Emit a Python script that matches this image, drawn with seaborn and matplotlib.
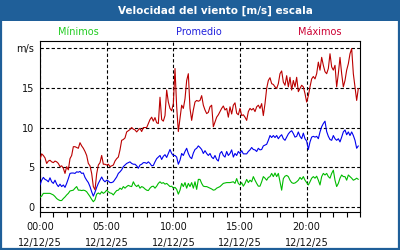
import numpy as np
import pandas as pd
import matplotlib
matplotlib.use("Agg")
import matplotlib.pyplot as plt
import seaborn as sns

title = "Velocidad del viento [m/s] escala"
series_names = ["Mínimos", "Promedio", "Máximos"]
x_tick_hours = [0, 5, 10, 15, 20]
x_tick_labels = ["00:00\n12/12/25", "05:00\n12/12/25", "10:00\n12/12/25",
                 "15:00\n12/12/25", "20:00\n12/12/25"]
y_tick_values = [0, 5, 10, 15, 20]
y_tick_labels = ["0", "5", "10", "15", "m/s"]

# samples every 7.5 minutes (hours)
step_hours = 0.125

maximos = [
    6.0, 6.7, 6.5, 6.2, 5.5, 5.8, 5.9, 5.7, 5.6, 5.8, 5.7, 5.5, 5.1, 5.2, 4.9, 4.25,
    5.1, 4.7, 6.1, 6.5, 7.6, 7.6, 7.5, 7.4, 8.1, 7.7, 7.4, 7.0, 6.5, 5.5, 5.2, 4.25,
    2.6, 2.2, 4.2, 5.3, 5.6, 6.5, 5.4, 5.4, 5.3, 5.4, 5.1, 5.2, 5.3, 5.8, 6.1, 6.3,
    7.2, 8.4, 8.5, 8.7, 9.45, 9.6, 9.75, 10.0, 9.8, 9.7, 9.45, 9.7, 9.9, 9.5, 10.0, 10.0,
    10.0, 10.5, 11.0, 11.3, 10.8, 11.25, 10.6, 10.5, 13.8, 11.0, 10.8, 11.5, 14.7, 13.2, 12.4, 12.1,
    13.0, 17.4, 12.6, 9.5, 11.1, 12.8, 12.4, 13.6, 15.9, 16.75, 12.4, 10.9, 12.2, 13.2, 13.4, 13.3,
    13.4, 14.0, 12.8, 12.2, 11.75, 11.9, 12.6, 12.8, 10.1, 10.7, 11.3, 11.6, 12.0, 12.4, 12.7, 12.2,
    12.4, 11.3, 12.6, 11.7, 12.8, 13.1, 11.8, 11.6, 12.4, 11.5, 11.6, 11.3, 10.9, 12.0, 12.4, 12.2,
    12.4, 12.0, 12.6, 12.8, 12.4, 13.0, 11.5, 13.0, 14.9, 15.9, 16.25, 15.5, 15.4, 15.1, 14.9, 15.5,
    16.75, 17.1, 15.7, 15.3, 16.5, 15.1, 16.3, 14.7, 15.9, 15.1, 16.3, 14.5, 14.9, 15.3, 15.1, 14.25,
    13.2, 14.0, 15.1, 16.1, 16.4, 16.1, 16.75, 18.2, 17.2, 18.8, 17.8, 17.0, 16.75, 17.4, 19.25, 17.6,
    17.2, 17.8, 15.1, 16.75, 18.8, 16.75, 15.1, 15.9, 17.2, 18.0, 19.25, 19.9, 16.75, 15.1, 13.4, 14.9,
]

promedio = [
    2.8, 3.4, 3.75, 3.5, 3.4, 3.2, 3.7, 3.2, 3.0, 3.4, 2.9, 2.6, 2.9, 2.6, 2.8, 2.5,
    3.0, 3.6, 4.25, 4.3, 4.3, 4.25, 4.45, 4.4, 4.5, 4.25, 4.3, 3.75, 3.4, 3.1, 2.6, 1.95,
    1.4, 1.9, 2.5, 3.0, 3.4, 3.8, 3.4, 3.2, 3.4, 3.3, 3.1, 3.1, 3.2, 3.5, 3.8, 4.25,
    4.45, 4.7, 5.1, 5.3, 5.5, 5.6, 5.7, 5.5, 5.4, 5.4, 5.2, 4.9, 5.3, 5.4, 5.6, 5.6,
    5.5, 5.7, 5.5, 5.2, 5.25, 5.7, 6.1, 6.3, 6.5, 6.0, 6.4, 6.6, 6.25, 6.75, 7.25, 6.75,
    6.5, 6.5, 6.3, 5.4, 5.9, 6.75, 6.5, 7.0, 7.4, 6.75, 6.3, 6.1, 6.8, 7.25, 7.4, 7.7,
    7.5, 7.25, 6.75, 7.1, 6.75, 6.5, 6.75, 6.3, 6.1, 6.5, 6.0, 5.8, 6.75, 7.0, 6.5, 6.3,
    7.0, 6.5, 6.75, 7.2, 6.3, 6.75, 6.5, 7.0, 6.75, 7.1, 6.7, 6.7, 6.7, 7.0, 7.2, 7.5,
    7.25, 7.2, 7.0, 7.4, 7.2, 7.25, 7.7, 7.8, 7.9, 8.4, 9.0, 8.75, 9.0, 8.75, 9.0, 8.6,
    8.9, 9.1, 8.6, 8.4, 8.8, 9.2, 9.45, 9.6, 9.25, 8.8, 8.9, 9.45, 8.9, 8.6, 9.3, 8.6,
    8.3, 7.25, 8.2, 8.8, 8.9, 8.8, 8.9, 8.6, 9.45, 10.1, 10.5, 10.8, 9.5, 8.9, 8.5, 8.4,
    9.0, 8.6, 8.4, 8.6, 8.2, 8.8, 9.45, 9.7, 9.1, 9.45, 9.0, 9.45, 9.0, 8.4, 7.4, 7.7,
]

minimos = [
    1.25, 1.4, 1.75, 1.75, 1.75, 1.75, 1.75, 1.65, 1.55, 1.35, 1.1, 0.95, 0.85, 0.85, 1.1, 1.3,
    1.55, 1.75, 2.05, 2.1, 2.15, 2.4, 2.6, 2.15, 2.15, 2.1, 2.15, 2.1, 1.95, 1.65, 1.35, 1.0,
    0.7, 0.95, 1.65, 1.8, 1.65, 1.95, 1.75, 1.9, 2.15, 1.95, 1.8, 1.75, 1.55, 1.85, 2.1, 2.15,
    2.4, 2.25, 2.6, 2.4, 2.6, 2.75, 2.65, 2.6, 3.2, 2.8, 2.6, 2.8, 2.4, 2.6, 2.5, 2.3,
    2.15, 2.1, 2.4, 2.6, 2.65, 2.4, 2.65, 3.0, 3.2, 3.0, 3.1, 2.9, 3.0, 2.8, 2.6, 2.65,
    2.4, 2.5, 2.25, 1.65, 2.15, 3.0, 2.6, 3.1, 2.4, 3.0, 2.6, 3.1, 2.4, 3.2, 2.25, 3.5,
    3.5, 3.0, 2.65, 2.6, 2.6, 2.5, 2.4, 2.3, 2.15, 2.2, 2.4, 2.5, 2.6, 2.8, 3.0, 3.05,
    3.1, 3.1, 3.1, 3.15, 3.2, 3.0, 3.6, 3.0, 2.8, 3.1, 2.65, 3.0, 3.5, 3.1, 3.4, 3.2,
    3.85, 3.4, 3.0, 2.65, 2.65, 3.2, 3.85, 3.65, 3.4, 3.75, 3.85, 4.25, 3.85, 4.3, 3.85, 4.25,
    3.2, 2.15, 3.6, 3.9, 4.0, 3.85, 3.4, 3.1, 3.0, 3.05, 3.2, 3.4, 3.75, 3.5, 3.85, 3.4,
    3.1, 2.8, 3.2, 3.65, 3.85, 3.65, 3.9, 3.4, 2.8, 3.85, 4.25, 4.05, 4.25, 3.85, 3.65, 4.25,
    4.65, 3.4, 2.6, 3.0, 3.65, 4.05, 3.85, 3.85, 3.4, 4.05, 3.85, 3.65, 3.4, 3.5, 3.65, 3.5,
]

line_colors = ["#00BB00", "#0000EE", "#BB0000"]
label_colors = ["#22CC22", "#2222DD", "#CC0033"]
frame_color = "#1F5F99"

hours = np.arange(len(maximos)) * step_hours
df = pd.DataFrame({
    "hora": np.concatenate([hours, hours, hours]),
    "valor": np.concatenate([minimos, promedio, maximos]),
    "serie": np.repeat(series_names, len(hours)),
})

sns.set_style("white")
plt.rcParams["font.family"] = ["DejaVu Sans"]

fig = plt.figure(figsize=(4, 2.5), dpi=100)
fig.patch.set_facecolor("white")

# title bar and frame
fig.patches.append(matplotlib.patches.Rectangle((0, 1 - 21 / 250), 1, 21 / 250,
                   transform=fig.transFigure, facecolor=frame_color, edgecolor="none", zorder=0))
fig.patches.append(matplotlib.patches.Rectangle((0.5 / 400, 1 / 250), 398.5 / 400, 248 / 250,
                   transform=fig.transFigure, facecolor="none", edgecolor=frame_color,
                   linewidth=1.6, zorder=0))
fig.text(215 / 400, 1 - 11 / 250, title, color="white", fontsize=7.5, fontweight="bold",
         ha="center", va="center")

ax = fig.add_axes([40 / 400, 1 - 211.7 / 250, 320 / 400, (211.7 - 41) / 250])
ax.set_facecolor("white")

sns.lineplot(data=df, x="hora", y="valor", hue="serie", hue_order=series_names,
             palette=line_colors, linewidth=0.8, legend=False, ax=ax, zorder=3)

ax.set_xlim(0, 24)
ax.set_ylim(-0.55, 20.85)
ax.set_xticks(x_tick_hours)
ax.set_xticklabels(x_tick_labels, fontsize=7, linespacing=1.7, color="#101010")
ax.set_xticks(range(0, 25), minor=True)
ax.set_yticks(y_tick_values)
ax.set_yticklabels(y_tick_labels, fontsize=7, color="#101010")
ax.tick_params(axis="x", which="both", direction="out", length=3.5, width=0.8,
               color="black", pad=4, bottom=True)
ax.tick_params(axis="y", length=0, pad=4)
ax.set_xlabel("")
ax.set_ylabel("")
for s in ax.spines.values():
    s.set_visible(True)
    s.set_color("black")
    s.set_linewidth(0.8)
ax.grid(True, which="major", color="black", linestyle=(0, (3, 2)), linewidth=0.8)
ax.set_axisbelow(True)

label_x = [78, 199, 320]
for name, col, xp in zip(series_names, label_colors, label_x):
    fig.text(xp / 400, 1 - 32 / 250, name, color=col, fontsize=7, ha="center", va="center")

fig.savefig("out.png", dpi=100)
